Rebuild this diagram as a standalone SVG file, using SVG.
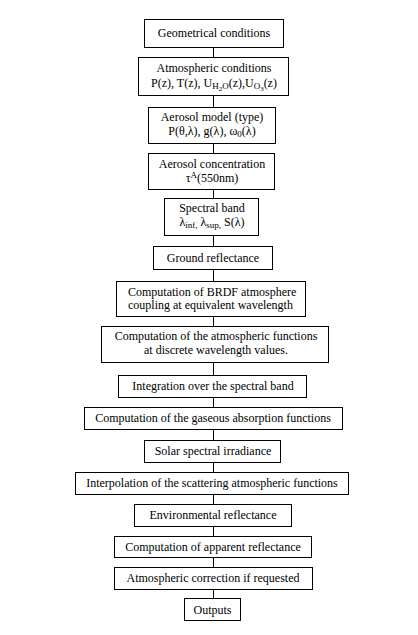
<svg xmlns="http://www.w3.org/2000/svg" width="418" height="635" viewBox="0 0 418 635">
<style>
rect.box{fill:#fff;stroke:#000;stroke-width:1}
line.c{stroke:#000;stroke-width:1}
text{font-family:"Liberation Serif","Times New Roman",serif;font-size:12px;fill:#000;text-anchor:middle}
.s{font-size:9px}
.ss{font-size:7px}
</style>
<rect width="418" height="635" fill="#fff"/>
<g id="connectors">
<line class="c" x1="213.5" y1="47" x2="213.5" y2="57"/>
<line class="c" x1="213.5" y1="96" x2="213.5" y2="107"/>
<line class="c" x1="213.5" y1="144" x2="213.5" y2="153"/>
<line class="c" x1="213.5" y1="190" x2="213.5" y2="198"/>
<line class="c" x1="213.5" y1="236" x2="213.5" y2="246"/>
<line class="c" x1="213.5" y1="270" x2="213.5" y2="281"/>
<line class="c" x1="213.5" y1="317" x2="213.5" y2="326"/>
<line class="c" x1="213.5" y1="363" x2="213.5" y2="375"/>
<line class="c" x1="213.5" y1="398" x2="213.5" y2="407"/>
<line class="c" x1="213.5" y1="430" x2="213.5" y2="440"/>
<line class="c" x1="213.5" y1="463" x2="213.5" y2="472"/>
<line class="c" x1="213.5" y1="495" x2="213.5" y2="504"/>
<line class="c" x1="213.5" y1="527" x2="213.5" y2="536"/>
<line class="c" x1="213.5" y1="558" x2="213.5" y2="567"/>
<line class="c" x1="213.5" y1="590" x2="213.5" y2="598"/>
</g>
<g id="n1"><rect class="box" x="144.5" y="19.5" width="139" height="28"/><text x="214" y="37">Geometrical conditions</text></g>
<g id="n2"><rect class="box" x="138.5" y="57.5" width="150" height="38"/><text x="214" y="72">Atmospheric conditions</text><text x="214" y="87">P(z), T(z), U<tspan class="s" dy="2">H</tspan><tspan class="ss" dy="2">2</tspan><tspan class="s" dy="-2">O</tspan><tspan dy="-2">(z),U</tspan><tspan class="s" dy="2">O</tspan><tspan class="ss" dy="2">3</tspan><tspan dy="-4">(z)</tspan></text></g>
<g id="n3"><rect class="box" x="148.5" y="107.5" width="127" height="36"/><text x="212" y="121">Aerosol model (type)</text><text x="212" y="135">P(θ,λ), g(λ), ω<tspan class="s" dy="2">0</tspan><tspan dy="-2">(λ)</tspan></text></g>
<g id="n4"><rect class="box" x="148.5" y="153.5" width="126" height="36"/><text x="212" y="168">Aerosol concentration</text><text x="212" y="182">τ<tspan class="s" dy="-4">A</tspan><tspan dy="4">(550nm)</tspan></text></g>
<g id="n5"><rect class="box" x="164.5" y="198.5" width="94" height="37"/><text x="212" y="212">Spectral band</text><text x="212" y="226">λ<tspan class="s" dy="2">inf,</tspan><tspan dy="-2"> λ</tspan><tspan class="s" dy="2">sup,</tspan><tspan dy="-2"> S(λ)</tspan></text></g>
<g id="n6"><rect class="box" x="153.5" y="246.5" width="119" height="23"/><text x="213" y="262">Ground reflectance</text></g>
<g id="n7"><rect class="box" x="116.5" y="281.5" width="189" height="35"/><text x="128" y="296" style="text-anchor:start">Computation of BRDF atmosphere</text><text x="128" y="309" style="text-anchor:start">coupling at equivalent wavelength</text></g>
<g id="n8"><rect class="box" x="101.5" y="326.5" width="227" height="36"/><text x="216" y="340">Computation of the atmospheric functions</text><text x="216" y="354">at discrete wavelength values.</text></g>
<g id="n9"><rect class="box" x="118.5" y="375.5" width="188" height="22"/><text x="213" y="390">Integration over the spectral band</text></g>
<g id="n10"><rect class="box" x="84.5" y="407.5" width="258" height="22"/><text x="213" y="422">Computation of the gaseous absorption functions</text></g>
<g id="n11"><rect class="box" x="144.5" y="440.5" width="136" height="22"/><text x="213" y="455">Solar spectral irradiance</text></g>
<g id="n12"><rect class="box" x="75.5" y="472.5" width="273" height="22"/><text x="212" y="487">Interpolation of the scattering atmospheric functions</text></g>
<g id="n13"><rect class="box" x="134.5" y="504.5" width="157" height="22"/><text x="213" y="519">Environmental reflectance</text></g>
<g id="n14"><rect class="box" x="114.5" y="536.5" width="197" height="21"/><text x="213" y="551">Computation of apparent reflectance</text></g>
<g id="n15"><rect class="box" x="114.5" y="567.5" width="198" height="22"/><text x="213" y="582">Atmospheric correction if requested</text></g>
<g id="n16"><rect class="box" x="184.5" y="598.5" width="56" height="22"/><text x="212.5" y="614">Outputs</text></g>
</svg>
